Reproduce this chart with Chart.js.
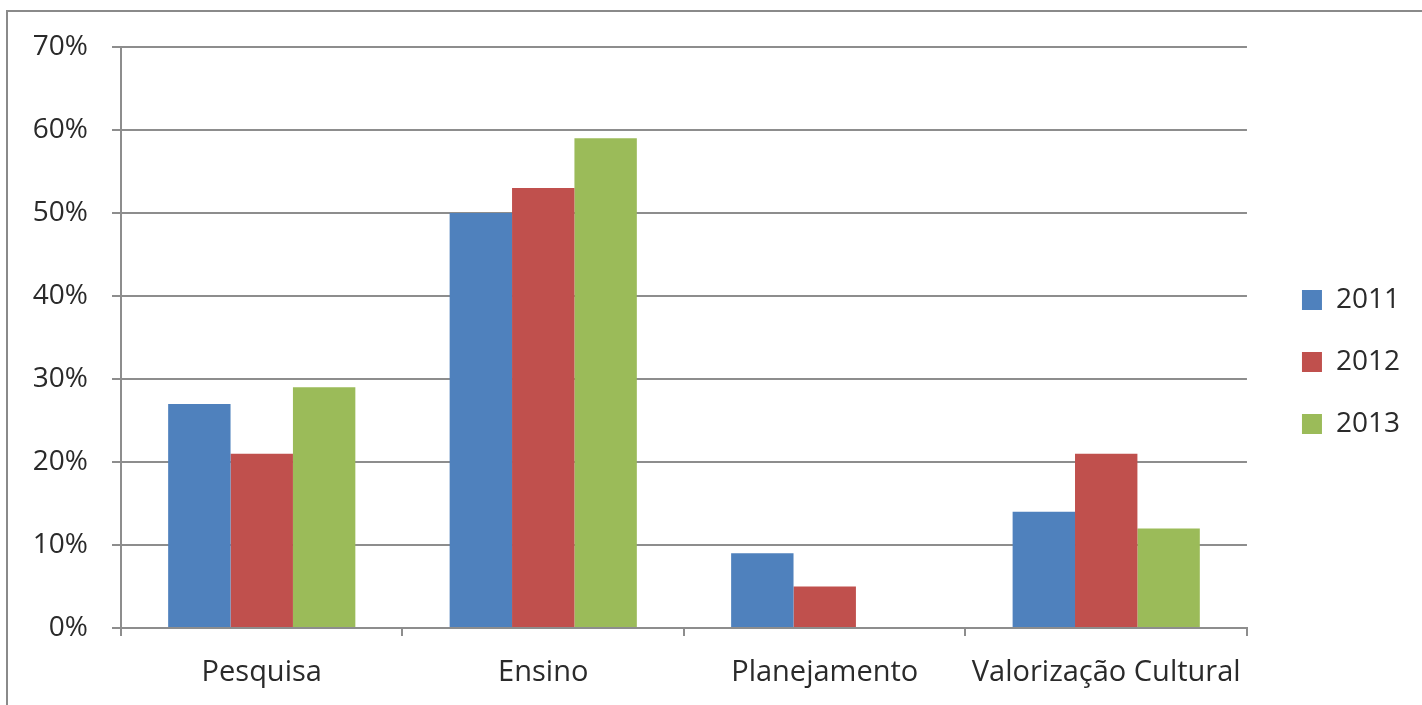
<!DOCTYPE html>
<html lang="pt">
  <head>
    <meta charset="UTF-8" />
    <style>
      body { margin: 0; background: #fff; }
      #frame {
        position: absolute;
        left: 6px;
        top: 10px;
        width: 1416px;
        height: 695px;
        border-top: 2px solid #8a8a8a;
        border-left: 2px solid #8a8a8a;
      }
      #myChart { display: block; }
    </style>
  </head>
  <body>
    <div id="frame">
      <canvas id="myChart" width="1414" height="693"></canvas>
    </div>
    <script src="https://cdn.jsdelivr.net/npm/chart.js@4.4.1/dist/chart.umd.min.js"></script>

    <script>
      // dados
      var categorias = ["Pesquisa", "Ensino", "Planejamento", "Valorização Cultural"];
      var anos = ["2011", "2012", "2013"];
      var v2011 = [27, 50, 9, 14];
      var v2012 = [21, 53, 5, 21];
      var v2013 = [29, 59, 0, 12];
      var cores = ["#4f81bd", "#c0504d", "#9bbb59"];

      var gridCor = "#8d8d8d";
      Chart.defaults.font.family = "'Open Sans'";
      Chart.defaults.font.size = 28;
      Chart.defaults.color = "#2a2a2a";

      var ctx = document.getElementById("myChart").getContext("2d");
      var chart = new Chart(ctx, {
        type: "bar",
        data: {
          labels: categorias,
          datasets: [
            { label: anos[0], data: v2011, backgroundColor: cores[0] },
            { label: anos[1], data: v2012, backgroundColor: cores[1] },
            { label: anos[2], data: v2013, backgroundColor: cores[2] },
          ],
        },
        options: {
          responsive: false,
          animation: false,
          devicePixelRatio: 1,
          categoryPercentage: 0.665,
          barPercentage: 1,
          layout: { padding: { left: 0, top: 7, right: 12, bottom: 0 } },
          plugins: {
            tooltip: { enabled: false },
            legend: {
              position: "right",
              labels: { boxWidth: 20, boxHeight: 20, padding: 34 },
            },
          },
          scales: {
            x: {
              grid: {
                drawOnChartArea: false,
                color: gridCor,
                lineWidth: 2,
                tickLength: 8,
              },
              border: { color: gridCor, width: 2 },
              ticks: { padding: 19, font: { size: 29 } },
              afterFit: function (s) { s.height = 77; },
            },
            y: {
              min: 0,
              max: 70,
              ticks: {
                stepSize: 10,
                padding: 24,
                callback: function (v) { return v + "%"; },
              },
              grid: { color: gridCor, lineWidth: 2, tickLength: 9 },
              border: { color: gridCor, width: 2 },
              afterFit: function (s) {
                s.width = 113;
                s.paddingTop = 0;
                s.paddingBottom = 0;
              },
            },
            // espaços vazios: acima do gráfico e entre gráfico e legenda
            topo: {
              type: "linear",
              position: "top",
              grid: { display: false },
              border: { display: false },
              ticks: { display: false },
              afterFit: function (s) { s.height = 28; },
            },
            gap: {
              type: "linear",
              position: "right",
              grid: { display: false },
              border: { display: false },
              ticks: { display: false },
              afterFit: function (s) { s.width = 21; },
            },
          },
        },
      });
    </script>
  </body>
</html>
